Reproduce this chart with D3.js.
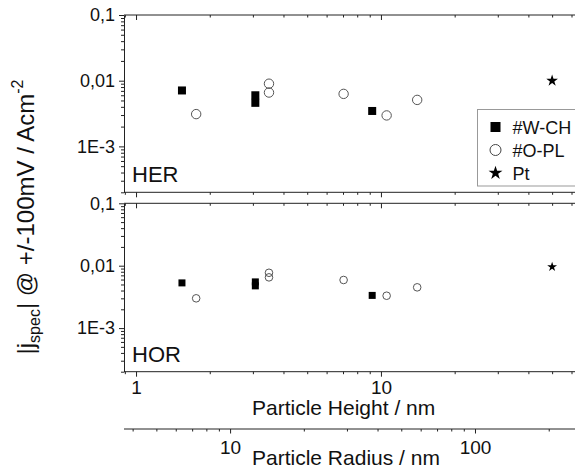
<!DOCTYPE html>
<html>
<head>
<meta charset="utf-8">
<script src="https://cdn.jsdelivr.net/npm/d3@7"></script>
<style>
  body { margin: 0; background: #fff; }
  svg { font-family: Arial, "Liberation Sans", sans-serif; }
  .axis path, .axis line { stroke: #222; }
  .axis text { font-size: 17px; fill: #111; font-family: Arial, "Liberation Sans", sans-serif; }
</style>
</head>
<body>
<script>
var width = 575,
    height = 470;

// particle heights (nm) for each sample series
var wchHeight = [1.54, 3.07, 3.07, 9.21];
var oplHeight = [1.76, 3.49, 3.49, 7.04, 10.55, 14.06];
var ptHeight = [50];

// |j_spec| at +/-100 mV, A cm^-2
var wchHER = [0.0071, 0.0060, 0.0046, 0.00346];
var oplHER = [0.0031, 0.0090, 0.0066, 0.0063, 0.00296, 0.0051];
var ptHER = [0.0100];

var wchHOR = [0.0053, 0.0055, 0.00475, 0.00334];
var oplHOR = [0.0030, 0.0077, 0.0065, 0.0059, 0.0033, 0.0045];
var ptHOR = [0.0096];

var yTicks = [0.1, 0.01, 0.001];
var yTickLabels = ['0,1', '0,01', '1E-3'];
var radiusPerHeight = 4.13;

var legendNames = ['#W-CH', '#O-PL', 'Pt'];

var svg = d3.select('body').append('svg')
  .attr('width', width)
  .attr('height', height);

var x = d3.scaleLog().domain([0.893, 62]).range([124, 575]);
var xr = d3.scaleLog()
  .domain([0.893 * radiusPerHeight, 62 * radiusPerHeight])
  .range([124, 575]);

function logTicks(lo, hi) {
  var out = [];
  for (var d = Math.pow(10, Math.floor(Math.log10(lo))); d <= hi * 1.0001; d *= 10) {
    for (var k = 1; k < 10; k++) {
      var v = +(k * d).toPrecision(3);
      if (v >= lo && v <= hi * 1.0001) out.push(v);
    }
  }
  return out;
}
function isMajor(v) {
  var l = Math.log10(v);
  return Math.abs(l - Math.round(l)) < 1e-6;
}

var panels = [
  {name: 'HER', top: 15, bottom: 192.3, wch: wchHER, opl: oplHER, pt: ptHER,
   sq: 8, cr: 4.7, star: 42},
  {name: 'HOR', top: 203.3, bottom: 371.7, wch: wchHOR, opl: oplHOR, pt: ptHOR,
   sq: 7, cr: 3.8, star: 30}
];

var xAll = logTicks(x.domain()[0], x.domain()[1]);

panels.forEach(function(p, i) {
  var y = d3.scaleLog().domain([2e-4, 0.1]).range([p.bottom, p.top]);
  var yAll = logTicks(2e-4, 0.1);

  // left axis
  var yAxis = svg.append('g')
    .attr('class', 'axis')
    .attr('transform', 'translate(124,0)')
    .call(d3.axisLeft(y).tickValues(yAll).tickSizeOuter(0).tickPadding(6)
      .tickFormat(function(d) {
        var j = yTicks.indexOf(d);
        return j >= 0 ? yTickLabels[j] : '';
      }));
  yAxis.selectAll('.tick line').attr('x2', function(d) { return isMajor(d) ? -5 : -3; });
  yAxis.selectAll('.tick text').attr('x', -9).style('font-size', '18px');

  // top and bottom frame axes, ticks pointing down
  [p.top, p.bottom].forEach(function(yy, k) {
    var g = svg.append('g')
      .attr('class', 'axis')
      .attr('transform', 'translate(0,' + yy + ')')
      .call(d3.axisBottom(x).tickValues(xAll).tickSizeOuter(0).tickPadding(3)
        .tickFormat(function(d) {
          return (i === 1 && k === 1 && isMajor(d)) ? d3.format('d')(d) : '';
        }));
    g.selectAll('.tick line').attr('y2', function(d) { return isMajor(d) ? 5 : 2.5; });
    g.select('.domain').attr('d', 'M' + x.range()[0] + ',0H' + (x.range()[1] + 5));
    g.selectAll('.tick text').style('font-size', '19px');
  });

  svg.append('text')
    .attr('x', 132)
    .attr('y', p.bottom - 10)
    .attr('font-size', '22px')
    .attr('fill', '#111')
    .text(p.name);

  var gp = svg.append('g');

  gp.selectAll('.sq')
    .data(p.wch)
    .enter().append('rect')
    .attr('x', function(d, j) { return x(wchHeight[j]) - p.sq / 2; })
    .attr('y', function(d) { return y(d) - p.sq / 2; })
    .attr('width', p.sq)
    .attr('height', p.sq)
    .attr('fill', '#000');

  gp.selectAll('.cr')
    .data(p.opl)
    .enter().append('circle')
    .attr('cx', function(d, j) { return x(oplHeight[j]); })
    .attr('cy', function(d) { return y(d); })
    .attr('r', p.cr)
    .attr('fill', 'none')
    .attr('stroke', '#555')
    .attr('stroke-width', 1);

  gp.selectAll('.st')
    .data(p.pt)
    .enter().append('path')
    .attr('d', d3.symbol().type(d3.symbolStar).size(p.star))
    .attr('transform', function(d, j) {
      return 'translate(' + x(ptHeight[j]) + ',' + y(d) + ')';
    })
    .attr('fill', '#000');
});

// secondary radius axis
var rAll = logTicks(xr.domain()[0], xr.domain()[1]);
var ra = svg.append('g')
  .attr('class', 'axis')
  .attr('transform', 'translate(0,429)')
  .call(d3.axisBottom(xr).tickValues(rAll).tickSizeOuter(0).tickPadding(6)
    .tickFormat(function(d) { return isMajor(d) ? d3.format('d')(d) : ''; }));
ra.selectAll('.tick line').attr('y2', function(d) { return isMajor(d) ? 4.5 : 2.5; });
ra.selectAll('.tick text').style('font-size', '19px');
ra.select('.domain').attr('d', 'M124,0H580');

svg.append('text')
  .attr('x', 252).attr('y', 415)
  .attr('font-size', '21px').attr('fill', '#111')
  .text('Particle Height / nm');

svg.append('text')
  .attr('x', 252).attr('y', 465)
  .attr('font-size', '21px').attr('fill', '#111')
  .text('Particle Radius / nm');

// y label
var yl = svg.append('text')
  .attr('transform', 'translate(34,217) rotate(-90)')
  .attr('text-anchor', 'middle')
  .attr('font-size', '24px')
  .attr('fill', '#111');
yl.append('tspan').text('|j');
yl.append('tspan').attr('font-size', '16px').attr('dy', 6).text('spec');
yl.append('tspan').attr('dy', -6).text('| @ +/-100mV / Acm');
yl.append('tspan').attr('font-size', '16px').attr('dy', -11).text('-2');

// legend
var lg = svg.append('g').attr('transform', 'translate(477.5,109.5)');
lg.append('rect')
  .attr('width', 110).attr('height', 76.5)
  .attr('fill', '#fff').attr('stroke', '#999');

var rows = lg.selectAll('.row')
  .data(legendNames)
  .enter().append('g')
  .attr('transform', function(d, i) { return 'translate(18,' + (17.5 + i * 23) + ')'; });

rows.each(function(d, i) {
  var r = d3.select(this);
  if (i === 0) {
    r.append('rect').attr('x', -5).attr('y', -5).attr('width', 10).attr('height', 10).attr('fill', '#000');
  } else if (i === 1) {
    r.append('circle').attr('r', 5.5).attr('fill', 'none').attr('stroke', '#444');
  } else {
    r.append('path').attr('d', d3.symbol().type(d3.symbolStar).size(60)).attr('fill', '#000');
  }
  r.append('text')
    .attr('x', 17).attr('y', 7)
    .attr('font-size', '18px').attr('fill', '#111')
    .text(d);
});
</script>
</body>
</html>
